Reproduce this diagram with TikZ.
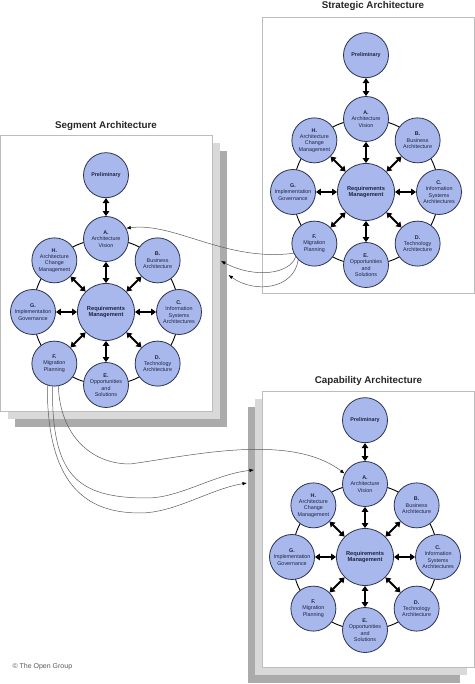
\documentclass[tikz,border=0pt]{standalone}
\usepackage{fontspec}
\setmainfont{Liberation Sans}
\usepackage{tikz}
\usetikzlibrary{arrows.meta, positioning, calc}
\definecolor{phasefill}{HTML}{A8B8EC}
\definecolor{phaseline}{HTML}{2B3350}
\definecolor{phasetext}{HTML}{1E2440}
\definecolor{pageline}{HTML}{BDBDBD}
\definecolor{sheetlight}{HTML}{D9D9D9}
\definecolor{sheetdark}{HTML}{ABABAB}
\definecolor{linkgrey}{HTML}{5A5A5A}
\tikzstyle{phase} = [circle, draw=phaseline, line width=0.8pt, fill=phasefill, minimum size=45pt, inner sep=0pt, align=center, text=phasetext, font=\fontsize{5.4}{6.4}\selectfont]
\tikzstyle{reqnode} = [phase, minimum size=57pt, font=\fontsize{5.7}{6.7}\selectfont\bfseries]
\tikzstyle{ring} = [draw=black, line width=0.9pt]
\tikzstyle{dbl} = [{Triangle[length=5pt,width=6.5pt]}-{Triangle[length=5pt,width=6.5pt]}, line width=1.8pt, black]
\tikzstyle{link} = [draw=linkgrey, line width=0.5pt, -{Latex[length=4.5pt,width=3.5pt,color=black]}]
\tikzstyle{page} = [rectangle, draw=pageline, line width=0.7pt, fill=white, minimum width=212pt, minimum height=276pt, inner sep=0pt]
\tikzstyle{sheet} = [rectangle, minimum width=212pt, minimum height=276pt, inner sep=0pt]
\tikzstyle{title} = [inner sep=0pt, text=black!85, font=\fontsize{9.8}{11}\selectfont\bfseries]

% one ADM cycle: #1 name prefix, #2 centre coordinate
\newcommand{\admcycle}[2]{%
  \draw[ring] (#2) circle (73);
  \node (#1R) [reqnode] at (#2) {Requirements\\Management};
  \node (#1A) [phase] at ($(#2)+(90:73)$) {\textbf{A.}\\Architecture\\Vision};
  \node (#1B) [phase] at ($(#2)+(45:73)$) {\textbf{B.}\\Business\\Architecture};
  \node (#1C) [phase] at ($(#2)+(0:73)$) {\textbf{C.}\\Information\\Systems\\Architectures};
  \node (#1D) [phase] at ($(#2)+(-45:73)$) {\textbf{D.}\\Technology\\Architecture};
  \node (#1E) [phase] at ($(#2)+(-90:73)$) {\textbf{E.}\\Opportunities\\and\\Solutions};
  \node (#1F) [phase] at ($(#2)+(-135:73)$) {\textbf{F.}\\Migration\\Planning};
  \node (#1G) [phase] at ($(#2)+(180:73)$) {\textbf{G.}\\Implementation\\Governance};
  \node (#1H) [phase] at ($(#2)+(135:73)$) {\textbf{H.}\\Architecture\\Change\\Management};
  \node (#1P) [phase, above=18pt of #1A] {\textbf{Preliminary}};
  \draw [dbl] (#1P) -- (#1A);
  \foreach \ph in {A,...,H}
    \draw [dbl] (#1R) -- (#1\ph);
}

\begin{document}
\begin{tikzpicture}[x=1pt, y=1pt, >=Stealth]
    \useasboundingbox (0,0) rectangle (474,684);

    % Pages
    \node (stratPage) [page] at (368,529) {};
    \node (segSheetC) [sheet, fill=sheetdark] at (121,395) {};
    \node (segSheetB) [sheet, fill=sheetlight] at (113.5,403) {};
    \node (segPage) [page] at (106,410.5) {};
    \node (capSheetC) [sheet, fill=sheetdark] at (353.5,139) {};
    \node (capSheetB) [sheet, fill=sheetlight] at (361,147) {};
    \node (capPage) [page] at (368.5,154.5) {};

    % Titles
    \node [title, above=6pt of stratPage, xshift=5pt] {Strategic Architecture};
    \node [title, above=4.5pt of segPage] {Segment Architecture};
    \node [title, above=5.5pt of capPage] {Capability Architecture};

    % Cycles
    \coordinate (stratO) at (366,492);
    \coordinate (segO) at (106,372);
    \coordinate (capO) at (365,127);
    \admcycle{strat}{stratO}
    \admcycle{seg}{segO}
    \admcycle{cap}{capO}

    % Links between architectures
    \coordinate (segEdgeB) at (221,423);
    \coordinate (segEdgeC) at (228.5,409);
    \coordinate (capEdgeB) at (254,214);
    \coordinate (capEdgeC) at (247,201);
    \draw [link] (stratF.205) .. controls (225,422) and (175,462) .. (segA.28);
    \draw [link] (stratF.215) .. controls (290,410) and (255,405) .. (segEdgeB);
    \draw [link] (stratF.225) .. controls (294,395) and (255,390) .. (segEdgeC);
    \draw [link] (segF.-80) .. controls (60,250) and (90,220) .. (130,220)
        .. controls (190,228) and (290,252) .. (capA.153);
    \draw [link] (segF.-95) .. controls (52,210) and (75,186) .. (147,186)
        .. controls (180,186) and (215,210) .. (capEdgeB);
    \draw [link] (segF.-108) .. controls (47,200) and (85,171) .. (140,171)
        .. controls (175,171) and (210,195) .. (capEdgeC);

    % Footer
    \node [anchor=west, text=black!65, font=\fontsize{7}{8}\selectfont] at (9,17) {© The Open Group};

\end{tikzpicture}
\end{document}
